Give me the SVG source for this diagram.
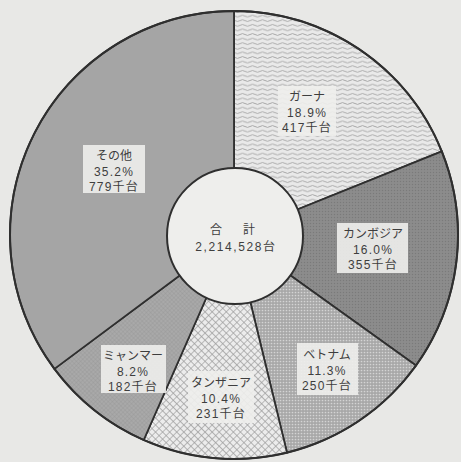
<svg xmlns="http://www.w3.org/2000/svg" width="461" height="462" viewBox="0 0 461 462">
<style>
.wedge{stroke:#2f2f2f;stroke-width:1.8;stroke-linejoin:round}
.box{fill:#eeeeec;opacity:0.9}
.lbl{font-family:"Liberation Sans","Noto Sans CJK JP",sans-serif;font-size:12px;fill:#3e3e3e;text-anchor:middle;dominant-baseline:central}
.num{letter-spacing:1.2px}
</style>
<defs>
<pattern id="pWave" width="10" height="4.6" patternUnits="userSpaceOnUse">
<rect width="10" height="4.6" fill="#e9e9e9"/>
<path d="M0 2.3 Q2.5 0.6 5 2.3 T10 2.3" fill="none" stroke="#9a9a9a" stroke-width="0.8"/>
</pattern>
<pattern id="pDark" width="3" height="3" patternUnits="userSpaceOnUse">
<rect width="3" height="3" fill="#8c8c8c"/>
<circle cx="1.5" cy="1.5" r="0.7" fill="#7a7a7a"/>
</pattern>
<pattern id="pDots" width="3" height="3" patternUnits="userSpaceOnUse">
<rect width="3" height="3" fill="#a8a8a8"/>
<circle cx="1.5" cy="1.5" r="0.85" fill="#d4d4d4"/>
</pattern>
<pattern id="pDiamond" width="5" height="5" patternUnits="userSpaceOnUse" patternTransform="rotate(45)">
<rect width="5" height="5" fill="#ececec"/>
<path d="M0 0 H5 M0 0 V5" stroke="#9c9c9c" stroke-width="1.3"/>
</pattern>
<pattern id="pFine" width="3" height="3" patternUnits="userSpaceOnUse" patternTransform="rotate(45)">
<rect width="3" height="3" fill="#a9a9a9"/>
<path d="M0 0 H3 M0 0 V3" stroke="#959595" stroke-width="0.7"/>
</pattern>
</defs>
<rect width="461" height="462" fill="#e8e8e6"/>
<g id="ghana">
<path class="wedge" d="M234 235 L234 11 A224 224 0 0 1 441.8 151.3 Z" fill="url(#pWave)"/>
<rect class="box" x="278" y="86" width="58" height="50" opacity="0.5"/>
<text class="lbl" x="307" y="97">ガーナ</text>
<text class="lbl num" x="307" y="113">18.9%</text>
<text class="lbl num" x="307" y="128">417千台</text>
</g>
<g id="cambodia">
<path class="wedge" d="M234 235 L441.8 151.3 A224 224 0 0 1 416 365.5 Z" fill="url(#pDark)"/>
<rect class="box" x="337" y="223" width="71" height="50"/>
<text class="lbl" x="373" y="234">カンボジア</text>
<text class="lbl num" x="373" y="250">16.0%</text>
<text class="lbl num" x="373" y="265">355千台</text>
</g>
<g id="vietnam">
<path class="wedge" d="M234 235 L416 365.5 A224 224 0 0 1 287 452.6 Z" fill="url(#pDots)"/>
<rect class="box" x="297" y="343" width="61" height="52"/>
<text class="lbl" x="327" y="355">ベトナム</text>
<text class="lbl num" x="327" y="371">11.3%</text>
<text class="lbl num" x="327" y="386">250千台</text>
</g>
<g id="tanzania">
<path class="wedge" d="M234 235 L287 452.6 A224 224 0 0 1 143.7 440 Z" fill="url(#pDiamond)"/>
<rect class="box" x="188" y="371" width="66" height="52" opacity="0.45"/>
<text class="lbl" x="221" y="383">タンザニア</text>
<text class="lbl num" x="221" y="399">10.4%</text>
<text class="lbl num" x="221" y="414">231千台</text>
</g>
<g id="myanmar">
<path class="wedge" d="M234 235 L143.7 440 A224 224 0 0 1 54.4 368.9 Z" fill="url(#pFine)"/>
<rect class="box" x="101" y="345" width="65" height="48"/>
<text class="lbl" x="133" y="356">ミャンマー</text>
<text class="lbl num" x="133" y="372">8.2%</text>
<text class="lbl num" x="133" y="387">182千台</text>
</g>
<g id="others">
<path class="wedge" d="M234 235 L54.4 368.9 A224 224 0 0 1 234 11 Z" fill="#a5a5a5"/>
<rect class="box" x="83" y="145" width="62" height="48"/>
<text class="lbl" x="114" y="156">その他</text>
<text class="lbl num" x="114" y="172">35.2%</text>
<text class="lbl num" x="114" y="187">779千台</text>
</g>
<g id="connectors">
<circle cx="234" cy="235" r="224" fill="none" stroke="#2f2f2f" stroke-width="2"/>
</g>
<g id="total">
<circle cx="235" cy="236" r="68" fill="#eeeeec" stroke="#2f2f2f" stroke-width="2"/>
<text class="lbl" x="216" y="230">合</text>
<text class="lbl" x="249" y="230">計</text>
<text class="lbl" x="236" y="247" style="letter-spacing:1.6px">2,214,528台</text>
</g>
</svg>
